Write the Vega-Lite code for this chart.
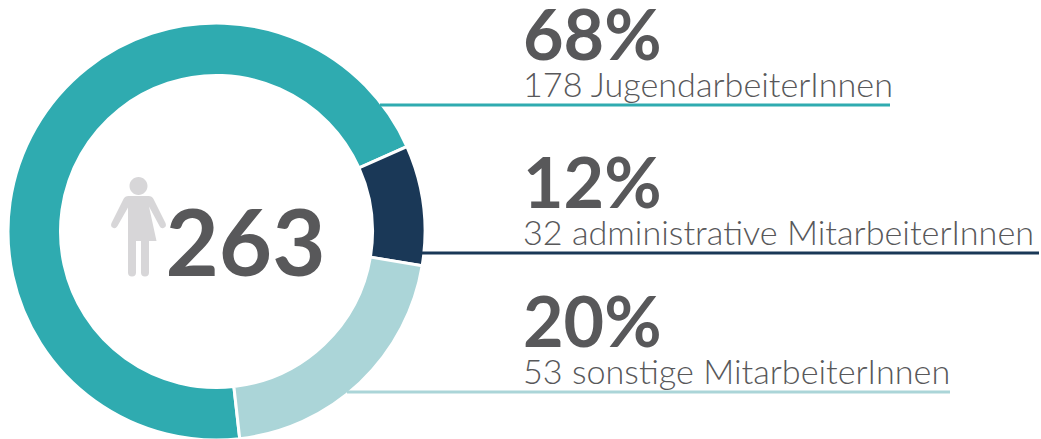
{
  "$schema": "https://vega.github.io/schema/vega-lite/v6.json",
  "width": 1041,
  "height": 439,
  "padding": 0,
  "autosize": {"type": "fit", "contains": "padding"},
  "background": "white",
  "view": {"stroke": null},
  "datasets": {
    "groups": [
      {"group": "JugendarbeiterInnen", "order": 1, "ring": 70.1, "pct": "68%", "label": "178 JugendarbeiterInnen", "lineFrom": 380, "lineTo": 890, "level": 105},
      {"group": "administrative MitarbeiterInnen", "order": 2, "ring": 9.3, "pct": "12%", "label": "32 administrative MitarbeiterInnen", "lineFrom": 421, "lineTo": 1039, "level": 253},
      {"group": "sonstige MitarbeiterInnen", "order": 3, "ring": 20.6, "pct": "20%", "label": "53 sonstige MitarbeiterInnen", "lineFrom": 347, "lineTo": 950, "level": 392}
    ],
    "total": [{"total": "263", "iconX": 138.5, "iconY": 226.5, "textX": 245.5, "textY": 276}]
  },
  "layer": [
    {
      "data": {"name": "groups"},
      "mark": {"type": "arc", "radius": 208.5, "radius2": 156, "stroke": "white", "strokeWidth": 3},
      "encoding": {
        "x": {"datum": 216.5, "type": "quantitative", "scale": {"domain": [0, 1041], "range": [0, 1041], "nice": false, "zero": false}, "axis": null},
        "y": {"datum": 231.5, "type": "quantitative", "scale": {"domain": [0, 439], "range": [0, 439], "nice": false, "zero": false}, "axis": null},
        "theta": {"field": "ring", "type": "quantitative", "stack": true, "scale": {"domain": [0, 100], "range": [3.03, 9.3132]}},
        "order": {"field": "order", "type": "quantitative"},
        "color": {"field": "group", "type": "nominal", "legend": null, "scale": {"domain": ["JugendarbeiterInnen", "administrative MitarbeiterInnen", "sonstige MitarbeiterInnen"], "range": ["#2fabb0", "#1a3857", "#abd5d8"]}}
      }
    },
    {
      "data": {"name": "groups"},
      "mark": {"type": "rule", "strokeWidth": 3},
      "encoding": {
        "x": {"field": "lineFrom", "type": "quantitative", "axis": null},
        "x2": {"field": "lineTo"},
        "y": {"field": "level", "type": "quantitative", "axis": null},
        "color": {"field": "group", "type": "nominal", "legend": null}
      }
    },
    {
      "data": {"name": "groups"},
      "mark": {"type": "text", "align": "left", "baseline": "alphabetic", "font": "Lato", "fontWeight": "bold", "fontSize": 70, "fill": "#58585a", "dy": -45},
      "encoding": {
        "x": {"datum": 523, "type": "quantitative", "axis": null},
        "y": {"field": "level", "type": "quantitative", "axis": null},
        "text": {"field": "pct"}
      }
    },
    {
      "data": {"name": "groups"},
      "mark": {"type": "text", "align": "left", "baseline": "alphabetic", "font": "Lato", "fontWeight": 300, "fontSize": 34.2, "fill": "#58585a", "dy": -8},
      "encoding": {
        "x": {"datum": 523, "type": "quantitative", "axis": null},
        "y": {"field": "level", "type": "quantitative", "axis": null},
        "text": {"field": "label"}
      }
    },
    {
      "data": {"name": "total"},
      "mark": {"type": "point", "filled": true, "opacity": 1, "fill": "#d7d6d8", "stroke": null, "size": 10000,
        "shape": "M0,-0.99 A0.18,0.18 0 1 1 0,-0.63 A0.18,0.18 0 1 1 0,-0.99 Z M-0.2,-0.61 L0.2,-0.61 Q0.27,-0.61 0.3,-0.55 L0.54,-0.07 Q0.57,0.01 0.5,0.03 Q0.45,0.05 0.42,-0.01 L0.21,-0.4 L0.36,0.29 L0.21,0.29 L0.21,0.92 Q0.21,1 0.13,1 Q0.05,1 0.05,0.92 L0.05,0.29 L-0.05,0.29 L-0.05,0.92 Q-0.05,1 -0.13,1 Q-0.21,1 -0.21,0.92 L-0.21,-0.38 L-0.42,-0.01 Q-0.46,0.05 -0.5,0.03 Q-0.57,0.01 -0.54,-0.07 L-0.3,-0.55 Q-0.27,-0.61 -0.2,-0.61 Z"},
      "encoding": {
        "x": {"field": "iconX", "type": "quantitative", "axis": null},
        "y": {"field": "iconY", "type": "quantitative", "axis": null}
      }
    },
    {
      "data": {"name": "total"},
      "mark": {"type": "text", "align": "center", "baseline": "alphabetic", "font": "Lato", "fontWeight": "bold", "fontSize": 92, "fill": "#58585a"},
      "encoding": {
        "x": {"field": "textX", "type": "quantitative", "axis": null},
        "y": {"field": "textY", "type": "quantitative", "axis": null},
        "text": {"field": "total"}
      }
    }
  ]
}
